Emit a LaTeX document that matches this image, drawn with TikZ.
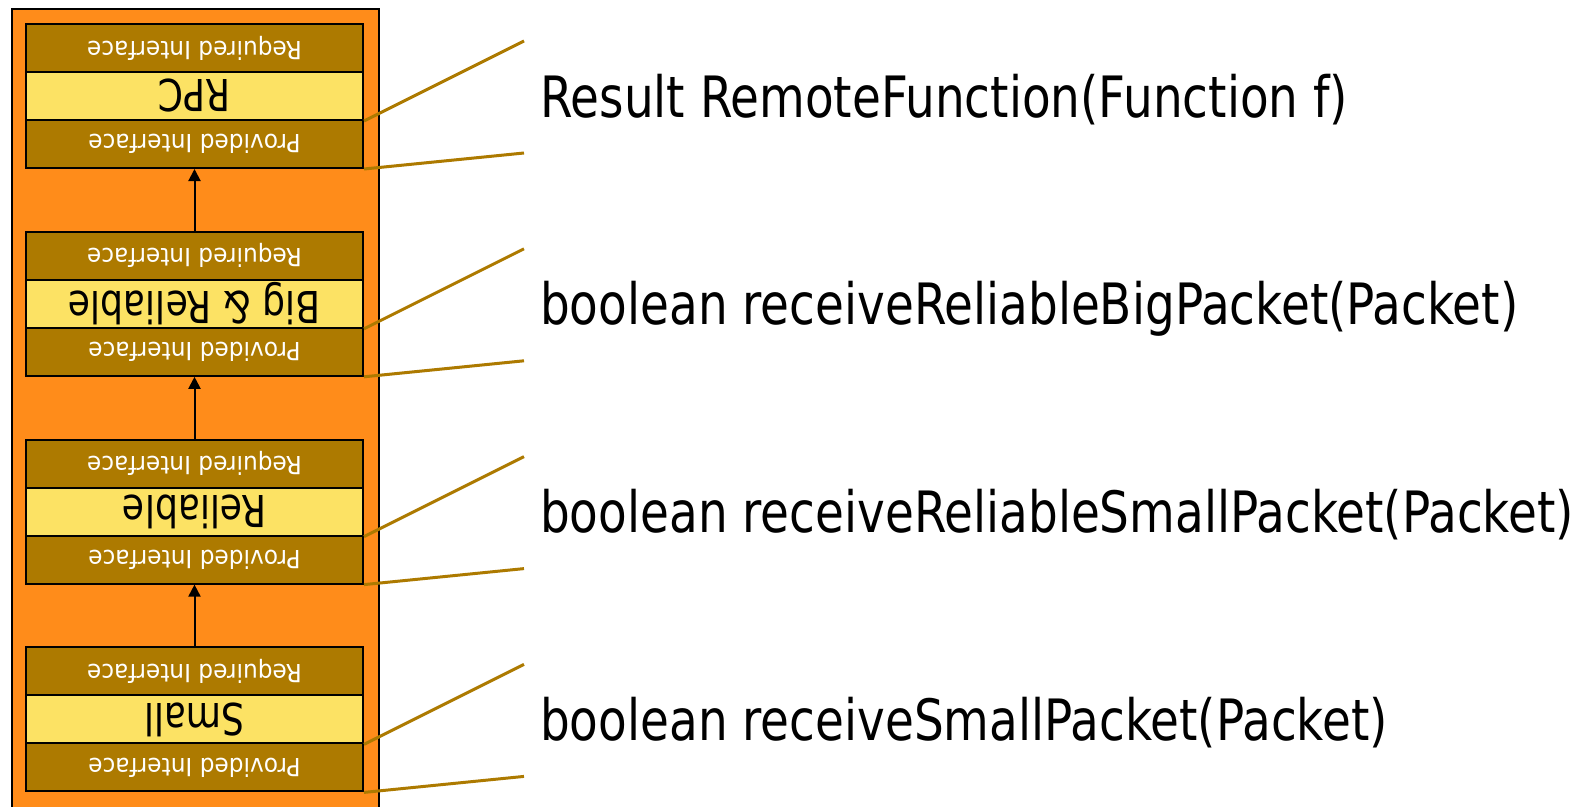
\documentclass[tikz,border=0pt]{standalone}
\usepackage{fontspec}
\newfontfamily\tah[FakeStretch=0.823]{DejaVu Sans}
\newfontfamily\tahs[FakeStretch=0.93]{DejaVu Sans}
\usetikzlibrary{arrows.meta}
\definecolor{orng}{RGB}{255,140,26}
\definecolor{brwn}{RGB}{173,122,0}
\definecolor{ylw}{RGB}{252,226,100}
\tikzset{
  layerbox/.style={draw=black, line width=2pt, minimum width=337pt, minimum height=48pt, inner sep=0pt},
  iface/.style={layerbox, fill=brwn, text=white, font=\tahs\fontsize{25}{27}\selectfont},
  core/.style={layerbox, fill=ylw, text=black, font=\tah\fontsize{44}{46}\selectfont},
  goldline/.style={draw=brwn, line width=3pt},
  uparrow/.style={draw=black, line width=2pt, -{Triangle[length=12pt,width=12pt]}},
  bigtext/.style={font=\tah\fontsize{57}{60}\selectfont, inner sep=0pt, anchor=base west}
}
\begin{document}
\begin{tikzpicture}[x=1pt,y=-1pt]
\useasboundingbox (0,0) rectangle (1577,806);
\fill[white] (0,0) rectangle (1577,806);
\draw[line width=2pt, fill=orng] (12,9) rectangle (379,820);
\foreach \i/\lab/\txt in {0/RPC/Result RemoteFunction(Function f),
                           1/Big \& Reliable/boolean receiveReliableBigPacket(Packet),
                           2/Reliable/boolean receiveReliableSmallPacket(Packet),
                           3/Small/boolean receiveSmallPacket(Packet)}{
  \pgfmathsetmacro{\yy}{24+207.8*\i}
  \node[iface] (r\i) at (194.5,\yy+24) {\rotatebox{180}{Required Interface}};
  \node[core] (m\i) at (194.5,\yy+72) {\rotatebox{180}{\lab}};
  \node[iface] (p\i) at (194.5,\yy+120) {\rotatebox{180}{Provided Interface}};
  \coordinate (ca\i) at (524,\yy+17);
  \coordinate (cb\i) at (524,\yy+129);
  \draw[goldline] (m\i.south east) -- (ca\i);
  \draw[goldline] (p\i.south east) -- (cb\i);
  \node[bigtext] (t\i) at (540,\yy+93) {\txt};
}
\foreach \a/\b in {1/0,2/1,3/2}{
  \draw[uparrow] (r\a.north) -- (p\b.south);
}
\end{tikzpicture}
\end{document}
